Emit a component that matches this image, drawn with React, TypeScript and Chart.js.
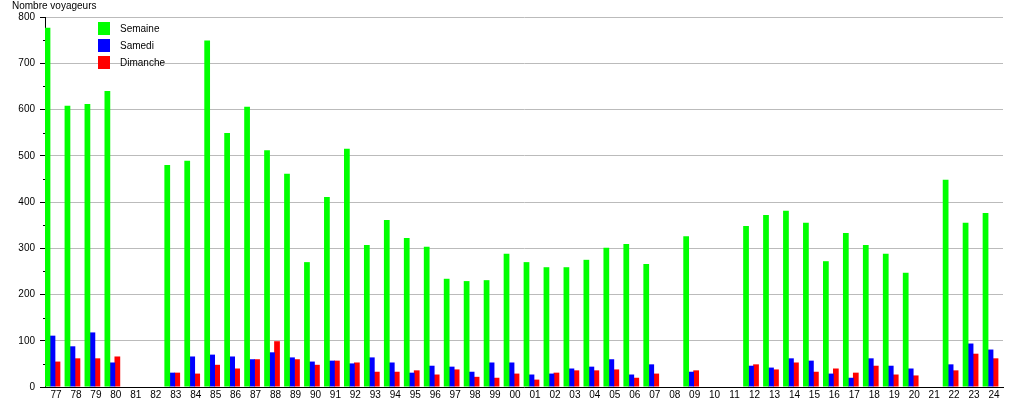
import React, { useEffect, useRef } from "react";
import { Chart, registerables } from "chart.js";

Chart.register(...registerables);

const years = [
  "77","78","79","80","81","82","83","84","85","86","87","88","89","90","91","92","93","94","95","96","97","98","99",
  "00","01","02","03","04","05","06","07","08","09","10","11","12","13","14","15","16","17","18","19","20","21","22","23","24",
];

const semaine = [
  777, 608, 612, 640, null, null, 480, 489, 749, 549, 606, 512, 461, 270, 411, 515, 307, 361, 322, 303, 234, 229, 231,
  288, 270, 259, 259, 275, 301, 309, 266, null, 326, null, null, 348, 372, 381, 355, 272, 333, 307, 288, 247, null, 448, 355, 376,
];

const samedi = [
  111, 88, 118, 53, null, null, 31, 66, 70, 66, 60, 75, 64, 55, 57, 51, 64, 53, 31, 46, 44, 33, 53,
  53, 27, 29, 40, 44, 60, 27, 49, null, 33, null, null, 46, 42, 62, 57, 29, 20, 62, 46, 40, null, 49, 94, 81,
];

const dimanche = [
  55, 62, 62, 66, null, null, 31, 29, 48, 40, 60, 99, 60, 48, 57, 53, 33, 33, 36, 27, 38, 22, 20,
  29, 16, 31, 36, 36, 38, 20, 29, null, 36, null, null, 49, 38, 53, 33, 40, 31, 46, 27, 25, null, 36, 72, 62,
];

const yTitle = "Nombre voyageurs";
const FONT = "'Liberation Sans', Arial, sans-serif";

const overlayPlugin = {
  id: "overlay",
  afterDraw(chart: any) {
    const ctx = chart.ctx;
    const y = chart.scales.y;
    ctx.save();
    // minor ticks
    ctx.strokeStyle = "#000";
    ctx.lineWidth = 1;
    for (let v = 50; v < 800; v += 100) {
      const py = Math.round(y.getPixelForValue(v)) + 0.5;
      ctx.beginPath();
      ctx.moveTo(y.right - 2, py);
      ctx.lineTo(y.right, py);
      ctx.stroke();
    }
    // axis title
    ctx.fillStyle = "#000";
    ctx.font = `10px ${FONT}`;
    ctx.textBaseline = "middle";
    ctx.textAlign = "left";
    ctx.fillText(yTitle, 12, 6.5);
    // legend
    const ds = chart.data.datasets.slice(0, 3);
    ds.forEach((d: any, i: number) => {
      const top = 22 + i * 17;
      ctx.fillStyle = d.backgroundColor;
      ctx.fillRect(98, top, 12, 13);
      ctx.fillStyle = "#000";
      ctx.fillText(d.label, 120, top + 7.5);
    });
    ctx.restore();
  },
};

export default function App() {
  const ref = useRef<HTMLCanvasElement>(null);
  useEffect(() => {
    if (!ref.current) return;
    const chart = new Chart(ref.current, {
      type: "bar",
      data: {
        labels: years,
        datasets: [
          { label: "Semaine", data: semaine, backgroundColor: "#00ff00" },
          { label: "Samedi", data: samedi, backgroundColor: "#0000ff" },
          { label: "Dimanche", data: dimanche, backgroundColor: "#ff0000" },
          { label: "", data: years.map(() => null), backgroundColor: "rgba(0,0,0,0)" },
        ],
      },
      options: {
        responsive: false,
        animation: false,
        devicePixelRatio: 1,
        datasets: { bar: { categoryPercentage: 1, barPercentage: 1.15 } },
        layout: { padding: { left: 0, top: 17, right: 12, bottom: 0 } },
        plugins: { legend: { display: false }, tooltip: { enabled: false }, title: { display: false } },
        scales: {
          x: {
            grid: { display: false, drawTicks: false, tickLength: 0 },
            border: { display: true, color: "#000", width: 1 },
            ticks: {
              autoSkip: false,
              maxRotation: 0,
              minRotation: 0,
              padding: 2,
              labelOffset: 1,
              color: "#000",
              font: { family: FONT, size: 10 },
            },
            afterFit(scale: any) {
              scale.height = 13;
            },
          },
          y: {
            min: 0,
            max: 800,
            ticks: {
              stepSize: 100,
              padding: 5,
              color: "#000",
              font: { family: FONT, size: 10 },
            },
            grid: { color: "#bbbbbb", tickColor: "#000", tickLength: 5, lineWidth: 1 },
            border: { display: true, color: "#000", width: 1 },
            afterFit(scale: any) {
              scale.width = 45;
            },
          },
        },
      },
      plugins: [overlayPlugin],
    });
    return () => chart.destroy();
  }, []);
  return (
    <div style={{ position: "absolute", left: 0, top: 0, width: 1015, height: 400, background: "#fff" }}>
      <canvas ref={ref} width={1015} height={400} style={{ display: "block" }} />
    </div>
  );
}
